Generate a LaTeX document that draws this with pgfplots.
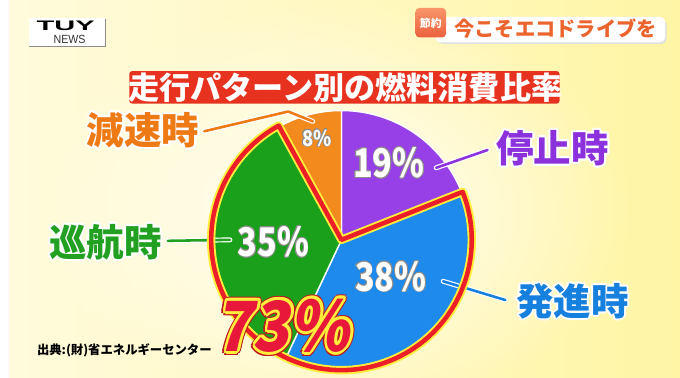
\documentclass[border=0pt]{standalone}
\usepackage{pgfplots}
\pgfplotsset{compat=1.18}
\usepackage{pgfplotstable}
\usepackage{fontspec}
\setmainfont{Noto Sans CJK JP}
\newfontfamily\logofont{Liberation Sans}
\usetikzlibrary{fadings}

\definecolor{bgL}{RGB}{255,251,220}
\definecolor{bgR}{RGB}{255,245,165}
\definecolor{sPurple}{RGB}{152,64,232}
\definecolor{sBlue}{RGB}{30,138,235}
\definecolor{sGreen}{RGB}{26,160,26}
\definecolor{sOrange}{RGB}{242,138,30}
\definecolor{lPurple}{RGB}{140,50,220}
\definecolor{lBlue}{RGB}{22,128,222}
\definecolor{lGreen}{RGB}{34,160,34}
\definecolor{lOrange}{RGB}{238,122,22}
\definecolor{ringRed}{RGB}{236,30,40}
\definecolor{ringYel}{RGB}{255,238,60}
\definecolor{titleRed}{RGB}{230,50,30}
\definecolor{topText}{RGB}{236,100,45}
\definecolor{tagTop}{RGB}{248,150,105}
\definecolor{tagBot}{RGB}{236,96,62}
\definecolor{bigRed}{RGB}{232,24,58}

\tikzfading[name=glow, inner color=transparent!0, outer color=transparent!100]

\pgfplotstableread{
label value
stop 19
start 38
cruise 35
decel 8
}\piedata

\newcommand\otext[5]{%
  \foreach \oa in {0,30,...,330}{\node[#2,text=#4,shift={(\oa:#5)}] at #1 {#3};}%
  \node[#2] at #1 {#3};}

\begin{document}
\pgfplotstablegetelem{0}{value}\of\piedata\let\vA\pgfplotsretval
\pgfplotstablegetelem{1}{value}\of\piedata\let\vB\pgfplotsretval
\pgfplotstablegetelem{2}{value}\of\piedata\let\vC\pgfplotsretval
\pgfplotstablegetelem{3}{value}\of\piedata\let\vD\pgfplotsretval
\pgfmathsetmacro\aA{90-3.6*\vA}
\pgfmathsetmacro\aB{\aA-3.6*\vB}
\pgfmathsetmacro\aC{\aB-3.6*\vC}
\pgfmathsetmacro\aD{\aC-3.6*\vD}
\begin{tikzpicture}
\useasboundingbox (0,0) rectangle (680pt,382pt);
\shade[left color=bgL, right color=bgR] (0,0) rectangle (680pt,382pt);
\fill[white, path fading=glow, opacity=0.85] (330pt,170pt) ellipse (300pt and 210pt);

\begin{axis}[at={(0,0)}, anchor=south west, width=680pt, height=382pt,
  scale only axis, xmin=0, xmax=680, ymin=0, ymax=382, y dir=reverse,
  hide axis, clip=false]
% slices
\fill[sPurple, draw=white, line width=1.4pt, line join=round] (axis cs:337,243) -- ++(90:131pt) arc[start angle=90, end angle=\aA, radius=131pt] -- cycle;
\fill[sBlue, draw=white, line width=1.4pt, line join=round] (axis cs:337,243) -- ++(\aA:131pt) arc[start angle=\aA, end angle=\aB, radius=131pt] -- cycle;
\fill[sGreen, draw=white, line width=1.4pt, line join=round] (axis cs:337,243) -- ++(\aB:131pt) arc[start angle=\aB, end angle=\aC, radius=131pt] -- cycle;
\fill[sOrange, draw=white, line width=1.4pt, line join=round] (axis cs:337,243) -- ++(\aC:131pt) arc[start angle=\aC, end angle=\aD, radius=131pt] -- cycle;
% leaders
\draw[white, line width=5pt, line cap=round, line join=round] (axis cs:198,133) -- (axis cs:283,113) -- (axis cs:308,123);
\draw[lOrange, line width=2.6pt, line cap=round, line join=round] (axis cs:198,133) -- (axis cs:283,113) -- (axis cs:308,123);
\draw[white, line width=5pt, line cap=round] (axis cs:433,170) -- (axis cs:485,152);
\draw[lPurple, line width=2.6pt, line cap=round] (axis cs:433,170) -- (axis cs:485,152);
\draw[white, line width=5pt, line cap=round] (axis cs:161,244) -- (axis cs:224,243);
\draw[lGreen, line width=2.6pt, line cap=round] (axis cs:161,244) -- (axis cs:224,243);
\draw[white, line width=5pt, line cap=round] (axis cs:440,285) -- (axis cs:503,304);
\draw[lBlue, line width=2.6pt, line cap=round] (axis cs:440,285) -- (axis cs:503,304);
% 73% ring
\draw[ringYel, line width=8.5pt, line join=round] (axis cs:337,243) -- ++(\aA:132pt) arc[start angle=\aA, end angle=\aC, radius=132pt] -- cycle;
\draw[ringRed, line width=4.6pt, line join=round] (axis cs:337,243) -- ++(\aA:132pt) arc[start angle=\aA, end angle=\aC, radius=132pt] -- cycle;
\end{axis}

\begin{scope}[shift={(0,382pt)}, x=1pt, y=-1pt]
% logo
\fill[white] (20,18) rectangle (98,47);
\draw[black!45, line width=0.8pt] (98,19) -- (98,47) -- (20,47);
\node[inner sep=0, font=\logofont\fontsize{14}{14}\selectfont\bfseries, xscale=2.1, transform shape] at (57.5,26.5) {TUY};
\node[inner sep=0, font=\logofont\fontsize{12}{12}\selectfont, xscale=0.9, transform shape, text=black!80] at (61.5,40) {NEWS};
% top right
\fill[black!12, rounded corners=6pt] (434,19.5) rectangle (666.5,44.5);
\fill[white, rounded corners=6pt] (432,17) rectangle (665,43);
\shade[top color=tagTop, bottom color=tagBot, rounded corners=4pt] (412,8) rectangle (443,38);
\node[inner sep=0, text=white, font=\fontsize{11}{11}\selectfont\bfseries] at (427.5,24) {節約};
\node[inner sep=0, text=topText, font=\fontsize{20.5}{20.5}\selectfont\bfseries] at (554,29) {今こそエコドライブを};
% title
\node[fill=titleRed, rounded corners=3pt, inner sep=0, minimum width=436pt, minimum height=33pt] at (340,88.5) {};
\node[inner sep=0, text=white, font=\fontsize{31.5}{31.5}\selectfont\bfseries] at (341,89) {走行パターン別の燃料消費比率};
% category labels
\otext{(136,132)}{inner sep=0, text=lOrange, font=\fontsize{38}{38}\selectfont\bfseries}{減速時}{white}{2pt}
\otext{(551,150)}{inner sep=0, text=lPurple, font=\fontsize{38}{38}\selectfont\bfseries}{停止時}{white}{2pt}
\otext{(98,245)}{inner sep=0, text=lGreen, font=\fontsize{38}{38}\selectfont\bfseries}{巡航時}{white}{2pt}
\otext{(571,305)}{inner sep=0, text=lBlue, font=\fontsize{38}{38}\selectfont\bfseries}{発進時}{white}{2pt}
% percentages
\otext{(385,165)}{inner sep=0, text=white, xscale=0.82, transform shape, font=\fontsize{40}{40}\selectfont\bfseries}{19\%}{black!45}{0.8pt}
\otext{(387,280)}{inner sep=0, text=white, xscale=0.82, transform shape, font=\fontsize{40}{40}\selectfont\bfseries}{38\%}{black!45}{0.8pt}
\otext{(268,245)}{inner sep=0, text=white, xscale=0.82, transform shape, font=\fontsize{40}{40}\selectfont\bfseries}{35\%}{black!45}{0.8pt}
\otext{(312,140)}{inner sep=0, text=white, xscale=0.85, transform shape, font=\fontsize{22}{22}\selectfont\bfseries}{8\%}{black!45}{0.6pt}
% 73%
\otext{(282,330)}{inner sep=0, text=ringRed, xscale=0.88, xslant=0.2, transform shape, font=\fontsize{70}{70}\selectfont\bfseries}{73\%}{ringRed!80!black}{4.4pt}
\otext{(282,330)}{inner sep=0, text=bigRed, xscale=0.88, xslant=0.2, transform shape, font=\fontsize{70}{70}\selectfont\bfseries}{73\%}{ringYel}{3pt}
% source
\node[inner sep=0, font=\fontsize{12.5}{12.5}\selectfont\bfseries] at (117,355) {出典:(財)省エネルギーセンター};
\end{scope}
\end{tikzpicture}
\end{document}
